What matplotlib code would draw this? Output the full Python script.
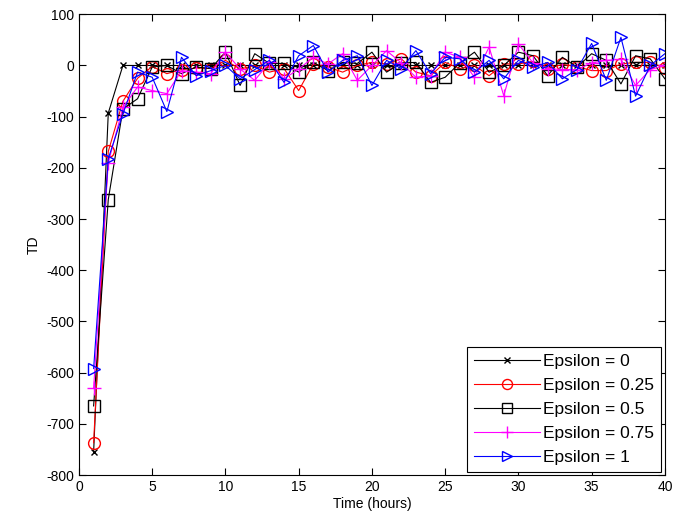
import numpy as np
import matplotlib.pyplot as plt

plt.rcParams['font.family'] = ['Liberation Sans', 'DejaVu Sans']
plt.rcParams['axes.unicode_minus'] = False

# Time axis (hours)
hours = np.arange(1, 41)

# TD values for each epsilon
td_eps0 = [-755, -93, 0, 0, 0, 0, 0, 0, 0, 0,
           0, 0, 0, 0, 0, 0, 0, 0, 0, 0,
           0, 0, 0, 0, 0, 0, 0, 0, 0, 0,
           0, 0, 0, 0, 0, 0, 0, 0, 0, 0]
td_eps025 = [-737, -168, -70, -25, -2, -16, -8, -5, -6, 10,
             -7, 0, -13, -6, -49, 3, -3, -13, 0, 6,
             3, 13, -13, -20, 6, -6, 0, -20, 3, 3,
             8, -6, 2, -2, -10, -10, 3, 6, 6, -5]
td_eps05 = [-665, -262, -85, -65, -3, 0, -16, -3, -6, 26,
            -39, 23, 4, 4, -13, 6, -10, 6, 4, 26,
            -13, 5, 6, -33, -23, 5, 26, -13, 0, 26,
            19, -20, 16, -3, 23, 10, -36, 19, 13, -26]
td_eps075 = [-630, -190, -82, -42, -49, -55, -10, -13, -16, 26,
             -7, -29, 6, -26, -7, 16, 3, 23, -29, 0,
             29, 5, -23, -20, 26, 16, -23, 36, -59, 42,
             5, -6, -8, -8, 5, 10, 12, -39, -8, 0]
td_eps1 = [-592, -182, -95, -13, -23, -90, 16, -20, -10, 0,
           -26, -8, 10, -33, 19, 39, -13, 10, 19, -39,
           10, -6, 29, -16, 16, 13, -13, 10, -26, 10,
           -3, 6, -26, -8, 43, -29, 55, -60, 0, 23]

labels = ['Epsilon = 0', 'Epsilon = 0.25', 'Epsilon = 0.5',
          'Epsilon = 0.75', 'Epsilon = 1']

fig = plt.figure(figsize=(6.75, 5.29), dpi=100)
ax = fig.add_axes([0.117, 0.102, 0.868, 0.871])

ms = 8.5
lw = 0.8
ax.plot(hours, td_eps0, color='black', marker='x', ms=5, lw=lw, label=labels[0])
ax.plot(hours, td_eps025, color='#ff0000', marker='o', ms=ms, mfc='none', lw=lw, label=labels[1])
ax.plot(hours, td_eps05, color='black', marker='s', ms=ms, mfc='none', lw=lw, label=labels[2])
ax.plot(hours, td_eps075, color='#ff00ff', marker='+', ms=ms + 2, lw=lw, label=labels[3])
ax.plot(hours, td_eps1, color='#0000ff', marker='>', ms=ms, mfc='none', lw=lw, label=labels[4])

ax.set_xlim(0, 40)
ax.set_ylim(-800, 100)
ax.set_xticks(np.arange(0, 41, 5))
ax.set_yticks(np.arange(-800, 101, 100))
ax.tick_params(direction='in', top=True, right=True, labelsize=10, length=5)
ax.set_xlabel('Time (hours)', fontsize=10, labelpad=2)
ax.set_ylabel('TD', fontsize=10)
for s in ax.spines.values():
    s.set_linewidth(0.8)

leg = ax.legend(loc='lower right', fontsize=12.5, fancybox=False, framealpha=1,
                edgecolor='black', handlelength=3.8, borderpad=0.4,
                labelspacing=0.5, handletextpad=0.2, borderaxespad=0.2,
                markerscale=0.85)
leg.get_frame().set_linewidth(0.8)

fig.savefig('out.png')
